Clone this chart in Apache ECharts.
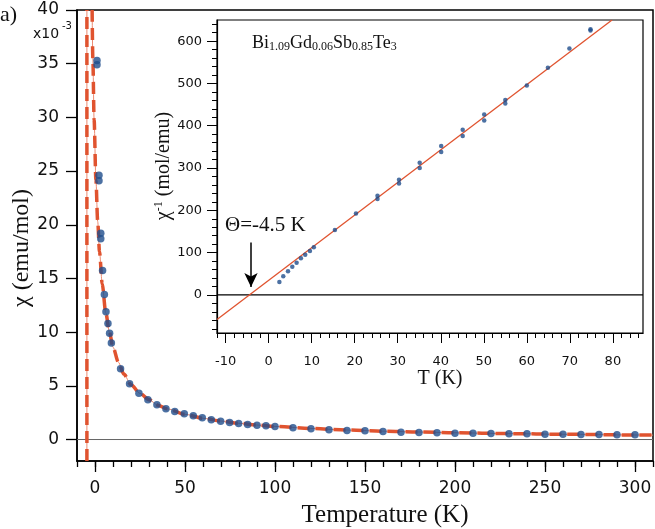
<!DOCTYPE html>
<html><head><meta charset="utf-8">
<script src="https://cdn.jsdelivr.net/npm/echarts@6/dist/echarts.min.js"></script>
<style>html,body{margin:0;padding:0;background:#fff}#c{width:655px;height:529px}</style>
</head><body><div id="c"></div>
<script>
// ---- main panel data: chi in units of 1e-3 emu/mol ----
const mainT = [1.1,1.1,2.2,2.2,3.2,3.2,4.2,5.2,6.1,7.2,8.1,9.1,14.2,19.2,24.4,29.4,34.4,39.4,44.3,49.6,54.6,59.6,64.6,69.8,74.8,79.8,84.8,90,95,100,110,120,130,140,150,160,170,180,190,200,210,220,230,240,250,260,270,280,290,300];
const mainChi = [35.3,34.9,24.6,24.1,19.2,18.7,15.75,13.5,11.9,10.8,9.9,9.0,6.6,5.19,4.32,3.70,3.23,2.86,2.61,2.39,2.21,2.02,1.84,1.71,1.58,1.49,1.40,1.33,1.28,1.21,1.09,1.00,0.90,0.84,0.81,0.75,0.68,0.65,0.62,0.59,0.59,0.56,0.53,0.53,0.50,0.50,0.47,0.47,0.44,0.44];
const fitT = [-1.6,-1.2,-0.5,0.5,1.5,2.5,4,6,8,10,13,16,20,25,30,35,40,50,60,70,80,90,100,120,140,160,180,200,230,260,300,310];
const fitChi = [40,35.5,29.8,24.2,20.3,17.5,14.5,11.8,10.0,8.6,7.2,6.1,5.1,4.3,3.7,3.2,2.87,2.35,1.98,1.72,1.51,1.35,1.22,1.03,0.88,0.78,0.70,0.63,0.55,0.49,0.42,0.41];
const thetaT = [-4.5,-4.5];
const thetaChi = [-2,40];
const zeroT = [-10,310];
const zeroChi = [0,0];
const mainXLabels = [0,50,100,150,200,250,300];
const mainXMinor = [-10,0,10,20,30,40,50,60,70,80,90,100,110,120,130,140,150,160,170,180,190,200,210,220,230,240,250,260,270,280,290,300,310];
const mainYLabels = [0,5,10,15,20,25,30,35,40];
// ---- inset data: 1/chi in mol/emu ----
const insetT = [2.5,3.4,4.5,5.5,6.5,7.5,8.5,9.6,10.5,15.4,20.3,25.3,25.3,30.3,30.3,35.1,35.1,40.1,40.1,45.1,45.1,50.1,50.1,55,55,60,64.9,69.9,74.8,74.8];
const insetInv = [30.7,44,55.8,66.9,76.3,86.5,95.2,103.9,112.5,153.5,192.8,234.6,226.8,272.4,263.6,312.5,300,352,337.8,390.5,375.6,426.7,412.5,460.7,452.6,495.2,537,582.6,628.4,625];
const lineT = [-12,79.8];
const lineInv = [-58,650];
const inZeroT = [-12,87];
const inZeroInv = [0,0];
const arrowT = [-4.1,-4.1];
const arrowInv = [124,19];
const insetXLabels = [-10,0,10,20,30,40,50,60,70,80];
const insetXMinor = [-12,-10,-8,-6,-4,-2,0,2,4,6,8,10,12,14,16,18,20,22,24,26,28,30,32,34,36,38,40,42,44,46,48,50,52,54,56,58,60,62,64,66,68,70,72,74,76,78,80,82,84,86];
const insetYLabels = [0,100,200,300,400,500,600];
const insetYMinor = [-80,-60,-40,-20,0,20,40,60,80,100,120,140,160,180,200,220,240,260,280,300,320,340,360,380,400,420,440,460,480,500,520,540,560,580,600,620,640];

const zip = (a,b)=>a.map((v,i)=>[v,b[i]]);
const SANS = 'DejaVu Sans', SERIF = 'Liberation Serif';
const BLUE = '#1f4d8c', RED = '#e0532f', RED2 = '#ec8a70';

const chart = echarts.init(document.getElementById('c'), null, {renderer:'canvas'});
function axisBase(extra){ return Object.assign({type:'value', splitLine:{show:false}}, extra); }
const lineBlack = w => ({show:true, onZero:false, lineStyle:{color:'#000', width:w}});
const noLine = {show:false, onZero:false};

chart.setOption({
  animation:false,
  backgroundColor:'#fff',
  grid:[
    {left:77, top:10, right:2, bottom:68, show:true, borderColor:'#000', borderWidth:1.5, backgroundColor:'transparent'},
    {left:217, top:20, right:12, bottom:196, show:true, borderColor:'#000', borderWidth:1.2, backgroundColor:'#fff'}
  ],
  xAxis:[
    axisBase({gridIndex:0, min:-10, max:310, position:'bottom', axisLine:lineBlack(1.5),
      axisTick:{show:true, length:6, lineStyle:{color:'#000', width:1.3}, customValues:mainXMinor},
      axisLabel:{show:true, customValues:mainXLabels, margin:19, fontFamily:SANS, fontSize:17, color:'#111'}}),
    axisBase({gridIndex:0, min:-10, max:310, position:'bottom', axisLine:noLine,
      axisTick:{show:true, length:11, lineStyle:{color:'#000', width:1.3}, customValues:mainXLabels},
      axisLabel:{show:false}}),
    axisBase({gridIndex:1, min:-12, max:87, position:'bottom', axisLine:lineBlack(1.2),
      axisTick:{show:true, length:5, lineStyle:{color:'#000', width:1}, customValues:insetXMinor},
      axisLabel:{show:true, customValues:insetXLabels, margin:22, fontFamily:SANS, fontSize:13, color:'#111'}}),
    axisBase({gridIndex:1, min:-12, max:87, position:'bottom', axisLine:noLine,
      axisTick:{show:true, length:10, lineStyle:{color:'#000', width:1}, customValues:insetXLabels},
      axisLabel:{show:false}})
  ],
  yAxis:[
    axisBase({gridIndex:0, min:-2, max:40, position:'left', axisLine:lineBlack(1.5),
      axisTick:{show:true, length:11, lineStyle:{color:'#000', width:1.3}, customValues:mainYLabels},
      axisLabel:{show:true, customValues:mainYLabels, margin:18, fontFamily:SANS, fontSize:17, color:'#111'}}),
    axisBase({gridIndex:1, min:-90, max:650, position:'left', axisLine:lineBlack(1.2),
      axisTick:{show:true, length:5, lineStyle:{color:'#000', width:1}, customValues:insetYMinor},
      axisLabel:{show:true, customValues:insetYLabels, margin:15, fontFamily:SANS, fontSize:13, color:'#111'}}),
    axisBase({gridIndex:1, min:-90, max:650, position:'left', axisLine:noLine,
      axisTick:{show:true, length:10, lineStyle:{color:'#000', width:1}, customValues:insetYLabels},
      axisLabel:{show:false}})
  ],
  series:[
    {type:'line', xAxisIndex:0, yAxisIndex:0, data:zip(zeroT,zeroChi), showSymbol:false, lineStyle:{color:'#666', width:1}, z:1},
    {type:'line', xAxisIndex:0, yAxisIndex:0, data:zip(thetaT,thetaChi), showSymbol:false, lineStyle:{color:RED2, width:1}, z:2},
    {type:'line', xAxisIndex:0, yAxisIndex:0, data:zip(thetaT,thetaChi), showSymbol:false, lineStyle:{color:RED, width:3.5, type:[12,6]}, z:3},
    {type:'line', xAxisIndex:0, yAxisIndex:0, data:zip(fitT,fitChi), showSymbol:false, smooth:0.3, smoothMonotone:'x', lineStyle:{color:RED2, width:1}, z:2},
    {type:'line', xAxisIndex:0, yAxisIndex:0, data:zip(fitT,fitChi), showSymbol:false, smooth:0.3, smoothMonotone:'x', lineStyle:{color:RED, width:3.5, type:[12,6]}, z:3},
    {type:'scatter', xAxisIndex:0, yAxisIndex:0, data:zip(mainT,mainChi), symbolSize:7.5, itemStyle:{color:BLUE}, z:4},
    {type:'line', xAxisIndex:2, yAxisIndex:1, data:zip(inZeroT,inZeroInv), showSymbol:false, lineStyle:{color:'#000', width:1.2}, z:5},
    {type:'line', xAxisIndex:2, yAxisIndex:1, data:zip(lineT,lineInv), showSymbol:false, lineStyle:{color:RED, width:1.3}, z:6},
    {type:'scatter', xAxisIndex:2, yAxisIndex:1, data:zip(insetT,insetInv), symbolSize:4.5, itemStyle:{color:BLUE}, z:7},
    {type:'line', xAxisIndex:2, yAxisIndex:1, data:[], showSymbol:false, z:8,
      markLine:{silent:true, symbol:['none','arrow'], symbolSize:[10,14], label:{show:false},
      lineStyle:{color:'#000', width:1.5, type:'solid'}, data:[[{coord:[arrowT[0],arrowInv[0]]},{coord:[arrowT[1],arrowInv[1]]}]]}}
  ],
  graphic:[
    {type:'text', left:0, top:4, style:{text:'a)', font:'22px "Liberation Serif"', fill:'#111'}},
    {type:'text', x:33, y:34, style:{text:'x10', font:'14px "DejaVu Sans"', fill:'#111', verticalAlign:'middle'}},
    {type:'text', x:62, y:26, style:{text:'-3', font:'10px "DejaVu Sans"', fill:'#111', verticalAlign:'middle'}},
    {type:'text', x:22, y:248, rotation:Math.PI/2, style:{text:'χ (emu/mol)', font:'24px "Liberation Serif"', fill:'#111', align:'center', verticalAlign:'middle'}},
    {type:'text', x:385, y:515, style:{text:'Temperature (K)', font:'25px "Liberation Serif"', fill:'#111', align:'center', verticalAlign:'middle'}},
    {type:'text', x:440, y:379, style:{text:'T (K)', font:'20px "Liberation Serif"', fill:'#111', align:'center', verticalAlign:'middle'}},
    {type:'text', x:164, y:166, rotation:Math.PI/2, style:{text:'{m|χ}{s|-1}{m| (mol/emu)}', align:'center', verticalAlign:'middle', fill:'#111',
      rich:{m:{fontFamily:SERIF, fontSize:20, lineHeight:22, verticalAlign:'middle', fill:'#111'}, s:{fontFamily:SERIF, fontSize:12, lineHeight:12, verticalAlign:'top', fill:'#111'}}}},
    {type:'text', x:252, y:43, style:{text:'{m|Bi}{s|1.09}{m|Gd}{s|0.06}{m|Sb}{s|0.85}{m|Te}{s|3}', verticalAlign:'middle', fill:'#111',
      rich:{m:{fontFamily:SERIF, fontSize:18, lineHeight:20, verticalAlign:'middle', fill:'#111'}, s:{fontFamily:SERIF, fontSize:12, lineHeight:12, verticalAlign:'bottom', fill:'#111'}}}},
    {type:'text', x:225, y:225, style:{text:'Θ=-4.5 K', font:'21px "Liberation Serif"', fill:'#111', verticalAlign:'middle'}}
  ]
});
</script></body></html>
